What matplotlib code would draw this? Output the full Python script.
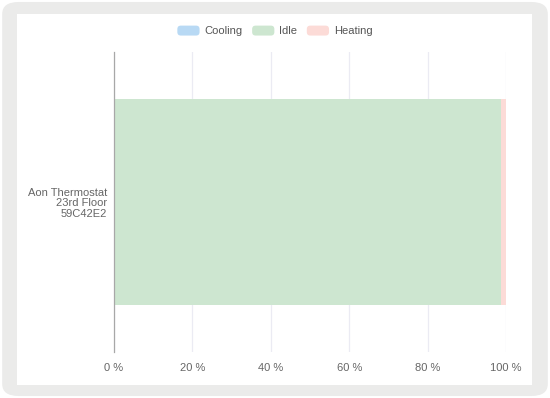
import matplotlib.pyplot as plt
from matplotlib.patches import FancyBboxPatch, Rectangle, Patch
from matplotlib.legend_handler import HandlerPatch
from matplotlib.ticker import FuncFormatter

plt.rcParams["font.family"] = ["Liberation Sans", "DejaVu Sans"]

# Data
devices = ["Aon Thermostat\n23rd Floor\n59C42E2"]
series = ["Cooling", "Idle", "Heating"]
cooling = [0.0]
idle = [98.7]
heating = [1.3]
colors = ["#b8d9f4", "#cde6d0", "#fcdbd7"]


class RoundBox(HandlerPatch):
    def create_artists(self, legend, orig_handle, xdescent, ydescent,
                       width, height, fontsize, trans):
        p = FancyBboxPatch((-xdescent, -ydescent), width, height,
                           boxstyle="round,pad=0,rounding_size=2.5",
                           facecolor=orig_handle.get_facecolor(),
                           edgecolor="none", transform=trans)
        return [p]


fig = plt.figure(figsize=(5.5, 3.98), dpi=100)
fig.patch.set_facecolor("white")

# grey card frame with white inner panel
fig.patches.append(FancyBboxPatch((0.004, 0.005), 0.992, 0.99,
                                  boxstyle="round,pad=0,rounding_size=0.03",
                                  transform=fig.transFigure, facecolor="#ebebea",
                                  edgecolor="none", zorder=-3))
fig.patches.append(Rectangle((17 / 550, 1 - 385 / 398), (532 - 17) / 550, (385 - 14) / 398,
                             transform=fig.transFigure, facecolor="white",
                             edgecolor="none", zorder=-2))

ax = fig.add_axes([114 / 550, 1 - 352 / 398, (506 - 114) / 550, (352 - 52) / 398])
ax.set_facecolor("none")

left = [0.0] * len(devices)
for name, vals, c in zip(series, [cooling, idle, heating], colors):
    ax.barh(devices, vals, left=left, height=0.687, color=c, label=name, zorder=2)
    left = [l + v for l, v in zip(left, vals)]

ax.set_xlim(0, 100)
ax.set_ylim(-0.5, 0.5)
ax.set_xticks([0, 20, 40, 60, 80, 100])
ax.xaxis.set_major_formatter(FuncFormatter(lambda v, p: f"{int(v)} %"))
ax.grid(axis="x", color="#ebebf3", linewidth=0.9, zorder=0)
ax.tick_params(axis="x", length=0, labelsize=8, labelcolor="#666666", pad=8)
ax.tick_params(axis="y", length=0, labelsize=8, labelcolor="#666666", pad=5)
for lbl in ax.get_yticklabels():
    lbl.set_horizontalalignment("right")
    lbl.set_multialignment("right")
    lbl.set_linespacing(1.1)

for s in ["top", "right", "bottom"]:
    ax.spines[s].set_visible(False)
ax.spines["left"].set_color("#a8a8a8")
ax.spines["left"].set_linewidth(0.9)

handles = [Patch(facecolor=c, label=n) for n, c in zip(series, colors)]
fig.legend(handles=handles, loc="center", bbox_to_anchor=(0.5, 1 - 31 / 398),
           ncol=3, frameon=False, fontsize=8, handlelength=2.0,
           handleheight=1.0, columnspacing=0.85, handletextpad=0.45,
           labelcolor="#555555", handler_map={Patch: RoundBox()})

fig.savefig("out.png", dpi=100)
